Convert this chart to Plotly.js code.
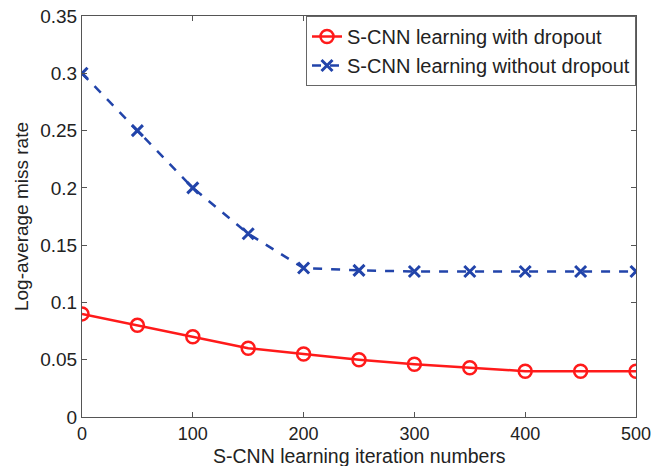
<!DOCTYPE html>
<html>
<head>
<meta charset="utf-8">
<script src="https://cdn.plot.ly/plotly-3.0.1.min.js"></script>
<style>html,body{margin:0;padding:0;background:#fff;}#chart{width:668px;height:466px;}</style>
</head>
<body>
<div id="chart"></div>
<script>
const iterations = [0, 50, 100, 150, 200, 250, 300, 350, 400, 450, 500];
const withDropout = [0.09, 0.08, 0.07, 0.06, 0.055, 0.05, 0.046, 0.043, 0.04, 0.04, 0.04];
const withoutDropout = [0.3, 0.25, 0.2, 0.16, 0.13, 0.128, 0.127, 0.127, 0.127, 0.127, 0.127];
const xTicks = [0, 100, 200, 300, 400, 500];
const yTicks = [0, 0.05, 0.1, 0.15, 0.2, 0.25, 0.3, 0.35];
const yTickText = ['0', '0.05', '0.1', '0.15', '0.2', '0.25', '0.3', '0.35'];
const xTitle = 'S-CNN learning iteration numbers';
const yTitle = 'Log-average miss rate';

const font = 'Liberation Sans, Arial, sans-serif';
const traces = [
  {x: iterations, y: withDropout, name: 'S-CNN learning with dropout', mode: 'lines+markers',
   line: {color: '#ff1a1a', width: 2.5},
   marker: {symbol: 'circle-open', size: 13, color: '#ff1a1a', line: {width: 2.5, color: '#ff1a1a'}}},
  {x: iterations, y: withoutDropout, name: 'S-CNN learning without dropout', mode: 'lines+markers',
   line: {color: '#2244aa', width: 2.5, dash: 'dash'},
   marker: {symbol: 'x-thin-open', size: 11, color: '#2244aa', line: {width: 3, color: '#2244aa'}}}
];
const axisCommon = {showline: true, mirror: 'ticks', linecolor: '#555', linewidth: 1, ticks: 'inside', ticklen: 5,
  tickcolor: '#555', showgrid: false, zeroline: false, tickfont: {family: font, size: 19, color: '#222'}};
const layout = {
  width: 668, height: 466,
  margin: {l: 82, r: 32, t: 16, b: 49},
  paper_bgcolor: '#fff', plot_bgcolor: '#fff',
  font: {family: font, color: '#222'},
  xaxis: Object.assign({}, axisCommon, {range: [0, 500], tickvals: xTicks, ticklabelstandoff: 0,
    tickfont: {family: font, size: 18, color: '#222'}}),
  yaxis: Object.assign({}, axisCommon, {range: [0, 0.35], tickvals: yTicks, ticktext: yTickText,
    title: {text: yTitle, font: {family: font, size: 19, color: '#222'}, standoff: 6}}),
  annotations: [{text: xTitle, xref: 'paper', yref: 'paper', x: 0.5, y: 0, xanchor: 'center', yanchor: 'bottom',
    yshift: -52, showarrow: false, font: {family: font, size: 19.5, color: '#222'}}],
  legend: {x: 1, xanchor: 'right', y: 1, yanchor: 'top', bgcolor: '#fff', bordercolor: '#666', borderwidth: 1,
    font: {family: font, size: 20, color: '#222'}, tracegroupgap: 0, itemwidth: 30},
  showlegend: true
};
Plotly.newPlot('chart', traces, layout, {displayModeBar: false, staticPlot: true});
</script>
</body>
</html>
